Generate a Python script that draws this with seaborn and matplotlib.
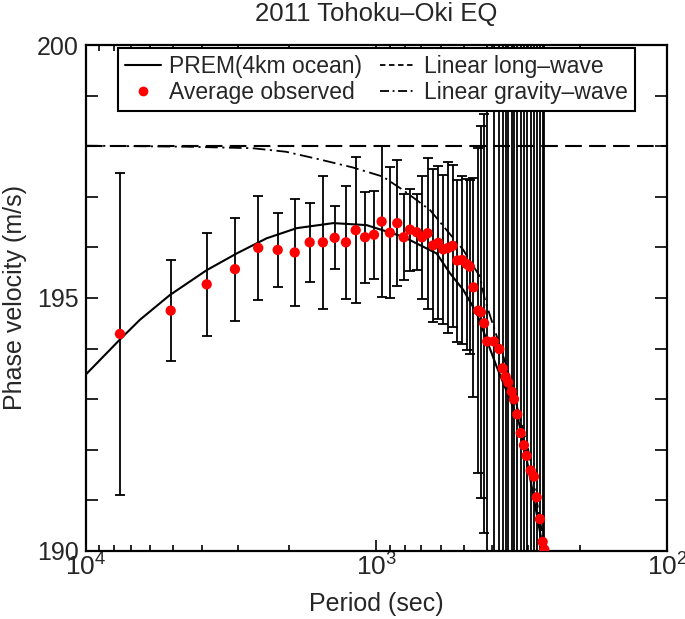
import matplotlib
matplotlib.use('Agg')
import matplotlib.pyplot as plt
import matplotlib.ticker as mticker
import matplotlib.lines as mlines
import seaborn as sns

# ---------------- data ----------------
obs_period = [7638, 5110, 3841, 3070, 2553, 2188, 1912, 1698, 1529, 1393,
              1274, 1179, 1095, 1020, 960, 899, 848, 806, 767, 727,
              697, 667, 638, 613, 589, 566, 547, 527, 507, 489,
              477, 464, 446, 437, 426, 415.6, 393.9, 377.7, 367.7, 359.1,
              351.8, 342.4, 336.2, 327.5, 318.9, 310.7, 304.1, 294.6, 287.0, 280.9,
              273.7, 267.9, 264.5]
obs_velocity = [194.29, 194.75, 195.27, 195.57, 195.99, 195.95, 195.90, 196.10, 196.10, 196.19,
                196.10, 196.34, 196.20, 196.25, 196.51, 196.29, 196.48, 196.20, 196.35, 196.30,
                196.20, 196.28, 196.04, 196.09, 195.96, 195.99, 196.03, 195.74, 195.75, 195.67,
                195.62, 195.21, 194.75, 194.72, 194.50, 194.14, 194.14, 193.99, 193.61, 193.44,
                193.33, 193.15, 193.00, 192.70, 192.33, 192.09, 191.88, 191.59, 191.47, 191.06,
                190.63, 190.18, 190.03]
obs_error = [3.18, 1.00, 1.02, 1.02, 1.03, 0.73, 1.05, 0.78, 1.32, 0.62,
             1.12, 1.44, 0.90, 0.87, 1.50, 1.29, 1.25, 0.85, 0.81, 0.75,
             1.22, 1.49, 1.51, 1.51, 1.47, 1.69, 1.60, 1.60, 1.66, 1.69,
             1.72, 2.17, 3.21, 3.68, 4.14, 15, 15, 15, 15, 15,
             15, 15, 15, 15, 15, 15, 15, 15, 15, 15,
             15, 15, 15]

prem_period = [10000, 7638, 6519, 5138, 3841, 3028, 2388, 1882, 1408, 1081,
               808.6, 620.6, 558.5, 502.6, 451.9, 385.6, 325.0, 308.2, 266.6]
prem_velocity = [193.49, 194.18, 194.57, 195.06, 195.55, 195.88, 196.18, 196.38, 196.48, 196.44,
                 196.21, 195.88, 195.49, 195.16, 194.70, 193.64, 192.59, 192.00, 190.02]

gravity_period = [10000, 4528, 2669, 2049, 1573, 1207, 952, 808.6, 654.4, 573.3,
                  502.6, 440.3, 423.2, 356.3, 300.3, 263.0]
gravity_velocity = [198.01, 197.99, 197.96, 197.89, 197.74, 197.58, 197.40, 197.13, 196.74, 196.34,
                    195.95, 195.42, 194.96, 193.64, 192.00, 190.02]

longwave_period = [10000, 100]
longwave_velocity = [198.0, 198.0]

title = "2011 Tohoku\u2013Oki EQ"
xlabel = "Period (sec)"
ylabel = "Phase velocity (m/s)"
labels = ["PREM(4km ocean)", "Average observed", "Linear long\u2013wave", "Linear gravity\u2013wave"]

# ---------------- style ----------------
sns.set_theme(style='ticks')
plt.rcParams['font.family'] = ['Liberation Sans', 'DejaVu Sans']
plt.rcParams['mathtext.default'] = 'regular'
plt.rcParams['axes.linewidth'] = 1.6

fig = plt.figure(figsize=(6.85, 6.19), dpi=100)
ax = fig.add_axes([0.1255, 0.1099, 0.8482, 0.8174])
ax.set_xscale('log')

# error bars
ax.errorbar(obs_period, obs_velocity, yerr=obs_error, fmt='none', ecolor='black',
            elinewidth=1.3, capsize=3.8, capthick=1.3, zorder=2)

# curves
sns.lineplot(x=longwave_period, y=longwave_velocity, ax=ax, color='black', lw=1.5,
             linestyle=(0, (8, 3.5)), zorder=3, sort=False)
sns.lineplot(x=gravity_period, y=gravity_velocity, ax=ax, color='black', lw=1.3,
             linestyle=(0, (7, 2.5, 1.2, 2.5)), zorder=3, sort=False)
sns.lineplot(x=prem_period, y=prem_velocity, ax=ax, color='black', lw=1.5,
             zorder=3, sort=False)

# observed points
sns.scatterplot(x=obs_period, y=obs_velocity, ax=ax, color='red', s=55,
                edgecolor='none', linewidth=0, zorder=4)

ax.set_xlim(1e4, 1e2)
ax.set_ylim(190, 200)

ax.yaxis.set_major_locator(mticker.MultipleLocator(5))
ax.yaxis.set_minor_locator(mticker.MultipleLocator(1))
ax.xaxis.set_major_locator(mticker.LogLocator(base=10))
ax.xaxis.set_minor_locator(mticker.LogLocator(base=10, subs=range(2, 10)))
ax.xaxis.set_major_formatter(mticker.LogFormatterMathtext())
ax.xaxis.set_minor_formatter(mticker.NullFormatter())

ax.tick_params(which='both', direction='in', top=True, right=True, color='black', width=1.2)
ax.tick_params(axis='x', which='major', length=8, labelsize=19, pad=2)
ax.tick_params(axis='x', which='minor', length=4.5)
ax.tick_params(axis='y', which='both', length=8.5, labelsize=18, pad=5)

ax.set_title(title, fontsize=18.5, pad=17)
ax.set_xlabel(xlabel, fontsize=18, labelpad=8)
ax.set_ylabel(ylabel, fontsize=18, labelpad=7)

for s in ax.spines.values():
    s.set_color('black')
    s.set_linewidth(1.6)

# legend
h_prem = mlines.Line2D([], [], color='black', lw=1.5)
h_obs = mlines.Line2D([], [], color='red', marker='o', markersize=7, linestyle='none',
                      markeredgewidth=0)
h_long = mlines.Line2D([], [], color='black', lw=1.3, linestyle=(0, (3, 2)))
h_grav = mlines.Line2D([], [], color='black', lw=1.3, linestyle=(0, (5, 2, 1, 2)))
leg = ax.legend([h_prem, h_obs, h_long, h_grav], labels, ncol=2,
                loc='upper left', bbox_to_anchor=(0.055, 0.994),
                borderaxespad=0, fontsize=16.5, frameon=True,
                fancybox=False, framealpha=1, edgecolor='black',
                handlelength=1.6, handletextpad=0.35, labelspacing=0.12,
                borderpad=0.3, columnspacing=0.75, numpoints=1)
leg.get_frame().set_linewidth(1.5)
leg.set_zorder(10)

fig.savefig('out.png', dpi=100)
